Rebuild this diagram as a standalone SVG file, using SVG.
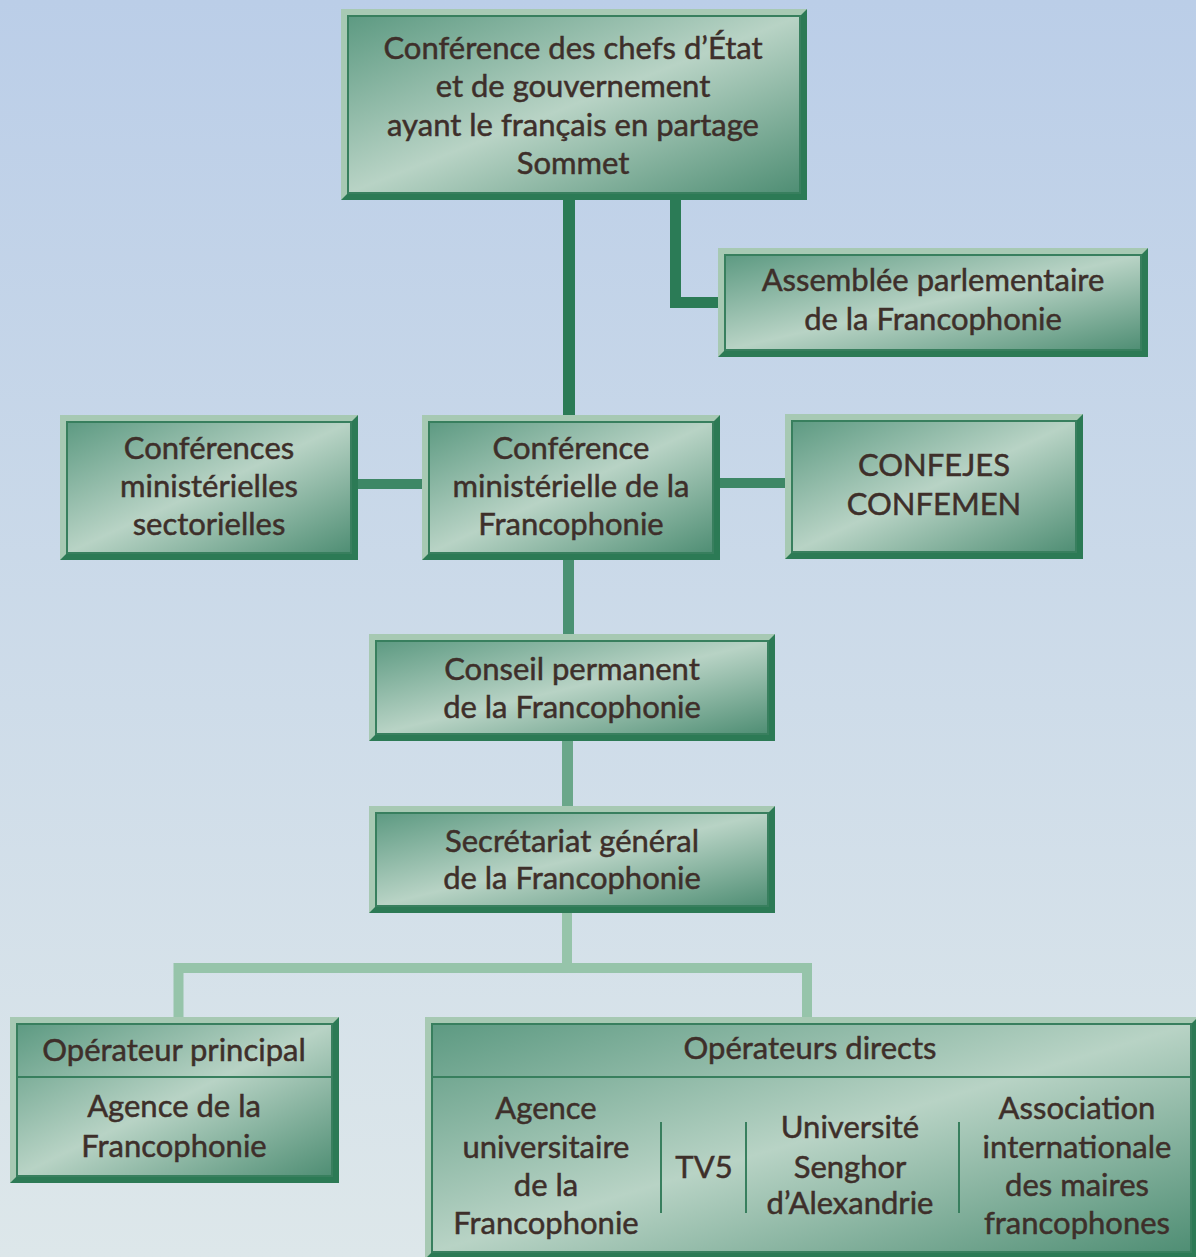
<svg xmlns="http://www.w3.org/2000/svg" width="1196" height="1257" viewBox="0 0 1196 1257">
<defs>
<linearGradient id="bg" x1="0" y1="0" x2="0" y2="1">
<stop offset="0" stop-color="#bbcee8"/>
<stop offset="1" stop-color="#dde7ea"/>
</linearGradient>
<linearGradient id="fill" x1="0" y1="0" x2="1" y2="1">
<stop offset="0" stop-color="#5d9a82"/>
<stop offset="0.5" stop-color="#b8d3c5"/>
<stop offset="1" stop-color="#4f8e74"/>
</linearGradient>
<style>
.lt{fill:#a7c9b3}
.dk{fill:#2c7a55}
.in{fill:url(#fill);stroke:#387f5e;stroke-width:2}
.div{stroke:#387f5e;stroke-width:2;fill:none}
text{font-family:Lato,"Open Sans","Liberation Sans",sans-serif;font-size:31px;fill:#3e2f2a;stroke:#3e2f2a;stroke-width:0.5;text-anchor:middle}
.c{fill:none;stroke-linejoin:miter;stroke-linecap:butt}
</style>
</defs>
<rect x="0" y="0" width="1196" height="1257" fill="url(#bg)"/>
<g id="connectors">
<line class="c" x1="569" y1="195" x2="569" y2="420" stroke="#2b7b56" stroke-width="12"/>
<path class="c" d="M675.5 195 V302.5 H722" stroke="#2b7b56" stroke-width="11"/>
<line class="c" x1="355" y1="484" x2="425" y2="484" stroke="#3d8766" stroke-width="10"/>
<line class="c" x1="717" y1="483" x2="788" y2="483" stroke="#3d8766" stroke-width="10"/>
<line class="c" x1="568.5" y1="555" x2="568.5" y2="638" stroke="#4a9173" stroke-width="11"/>
<line class="c" x1="567.5" y1="738" x2="567.5" y2="810" stroke="#6aa78a" stroke-width="11"/>
<path class="c" d="M567 910 V968" stroke="#96c4aa" stroke-width="10"/>
<path class="c" d="M178.5 1020 V968 H807 V1020" stroke="#96c4aa" stroke-width="10"/>
</g>
<g id="sommet">
<rect class="lt" x="341" y="9" width="466" height="191"/>
<polygon class="dk" points="807,9 807,200 341,200 348,193 800,193 800,16"/>
<rect class="in" x="348" y="16" width="452" height="177"/>
<text x="573" y="59">Conférence des chefs d’État</text>
<text x="573" y="97">et de gouvernement</text>
<text x="573" y="136">ayant le français en partage</text>
<text x="573" y="174">Sommet</text>
</g>
<g id="assemblee">
<rect class="lt" x="718" y="248" width="430" height="109"/>
<polygon class="dk" points="1148,248 1148,357 718,357 725,350 1141,350 1141,255"/>
<rect class="in" x="725" y="255" width="416" height="95"/>
<text x="933" y="291">Assemblée parlementaire</text>
<text x="933" y="330">de la Francophonie</text>
</g>
<g id="sectorielles">
<rect class="lt" x="60" y="415" width="298" height="145"/>
<polygon class="dk" points="358,415 358,560 60,560 67,553 351,553 351,422"/>
<rect class="in" x="67" y="422" width="284" height="131"/>
<text x="209" y="459">Conférences</text>
<text x="209" y="497">ministérielles</text>
<text x="209" y="535">sectorielles</text>
</g>
<g id="ministerielle">
<rect class="lt" x="422" y="415" width="298" height="145"/>
<polygon class="dk" points="720,415 720,560 422,560 429,553 713,553 713,422"/>
<rect class="in" x="429" y="422" width="284" height="131"/>
<text x="571" y="459">Conférence</text>
<text x="571" y="497">ministérielle de la</text>
<text x="571" y="535">Francophonie</text>
</g>
<g id="confejes">
<rect class="lt" x="785" y="414" width="298" height="145"/>
<polygon class="dk" points="1083,414 1083,559 785,559 792,552 1076,552 1076,421"/>
<rect class="in" x="792" y="421" width="284" height="131"/>
<text x="934" y="476">CONFEJES</text>
<text x="934" y="515">CONFEMEN</text>
</g>
<g id="conseil">
<rect class="lt" x="369" y="634" width="406" height="107"/>
<polygon class="dk" points="775,634 775,741 369,741 376,734 768,734 768,641"/>
<rect class="in" x="376" y="641" width="392" height="93"/>
<text x="572" y="680">Conseil permanent</text>
<text x="572" y="718">de la Francophonie</text>
</g>
<g id="secretariat">
<rect class="lt" x="369" y="806" width="406" height="107"/>
<polygon class="dk" points="775,806 775,913 369,913 376,906 768,906 768,813"/>
<rect class="in" x="376" y="813" width="392" height="93"/>
<text x="572" y="852">Secrétariat général</text>
<text x="572" y="889">de la Francophonie</text>
</g>
<g id="operateur-principal">
<rect class="lt" x="10" y="1017" width="329" height="166"/>
<polygon class="dk" points="339,1017 339,1183 10,1183 17,1176 332,1176 332,1024"/>
<rect class="in" x="17" y="1024" width="315" height="152"/>
<line class="div" x1="17" y1="1077" x2="332" y2="1077"/>
<text x="174" y="1061">Opérateur principal</text>
<text x="174" y="1117">Agence de la</text>
<text x="174" y="1157">Francophonie</text>
</g>
<g id="operateurs-directs">
<rect class="lt" x="425" y="1017" width="773" height="242"/>
<polygon class="dk" points="1198,1017 1198,1259 425,1259 432,1252 1191,1252 1191,1024"/>
<rect class="in" x="432" y="1024" width="759" height="228"/>
<line class="div" x1="432" y1="1077" x2="1191" y2="1077"/>
<line class="div" x1="661" y1="1122" x2="661" y2="1213"/>
<line class="div" x1="746" y1="1122" x2="746" y2="1213"/>
<line class="div" x1="959" y1="1122" x2="959" y2="1213"/>
<text x="810" y="1059">Opérateurs directs</text>
<text x="546" y="1119">Agence</text>
<text x="546" y="1158">universitaire</text>
<text x="546" y="1196">de la</text>
<text x="546" y="1234">Francophonie</text>
<text x="704" y="1178">TV5</text>
<text x="850" y="1138">Université</text>
<text x="850" y="1178">Senghor</text>
<text x="850" y="1214">d’Alexandrie</text>
<text x="1077" y="1119">Association</text>
<text x="1077" y="1158">internationale</text>
<text x="1077" y="1196">des maires</text>
<text x="1077" y="1234">francophones</text>
</g>
</svg>
